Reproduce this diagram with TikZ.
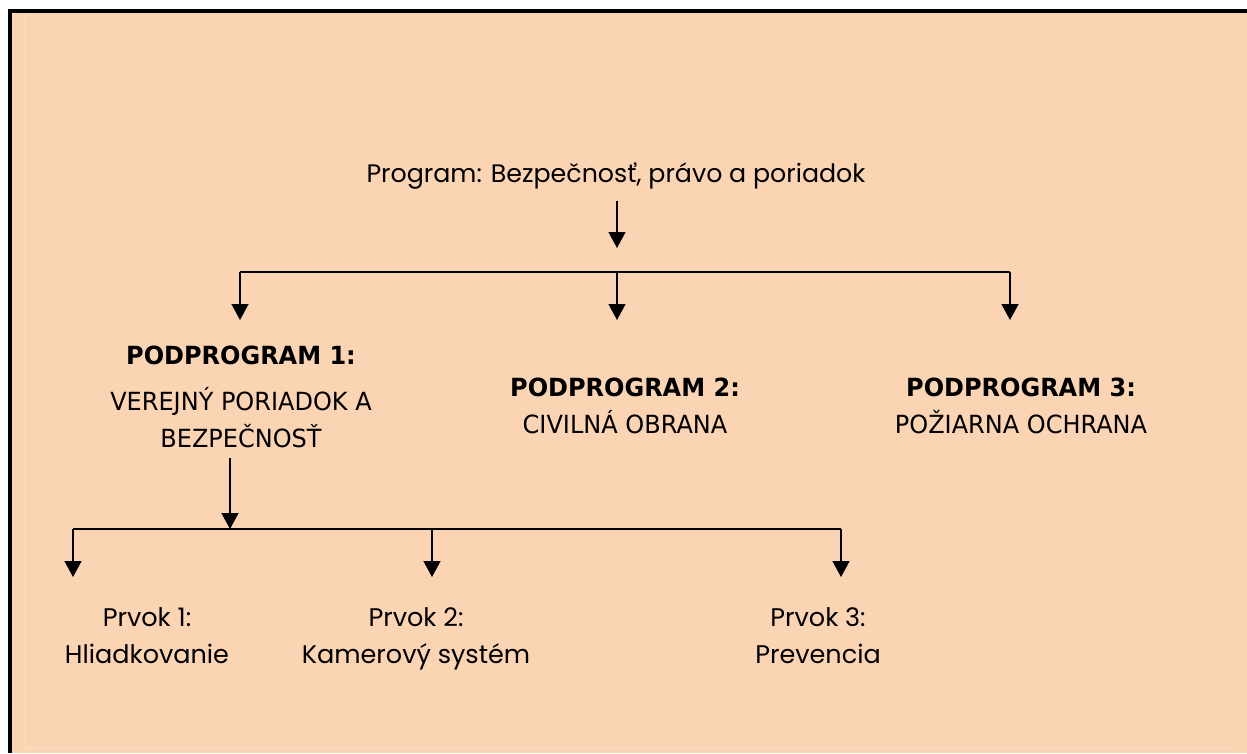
\documentclass[tikz,border=0pt]{standalone}
\usepackage{fontspec}
\setmainfont{Poppins}
\newfontfamily\tahoma[FakeStretch=0.96]{DejaVu Sans}
\usetikzlibrary{arrows.meta}
\definecolor{peach}{HTML}{FBD4B4}
\definecolor{peachline}{HTML}{FCDDC4}

\begin{document}
\begin{tikzpicture}[x=1pt,y=-1pt,line width=1.4pt,
    arr/.style={-{Triangle[width=17pt,length=16pt]}},
    prog/.style={font=\fontsize{25.3}{32}\selectfont, anchor=base, inner sep=0pt},
    sub/.style={font=\tahoma\fontsize{25}{37}\selectfont, align=center, anchor=base, inner sep=0pt},
    elem/.style={font=\fontsize{25.5}{37}\selectfont, align=center, anchor=base, inner sep=0pt}]

    \useasboundingbox (0,0) rectangle (1247,753);
    % page frame
    \fill[black] (8,9) rectangle (1247,753);
    \fill[peach] (12,13) rectangle (1247,753);
    \draw[peachline, line width=0.8pt] (24,13) -- (24,748) -- (1235,748);

      \node [prog] (prog) at (616,182) {Program: Bezpečnosť, právo a poriadok};

      % base = last line
      \node [sub] (sp1) at (241,447) {\textbf{PODPROGRAM 1:}\\[9pt] VEREJNÝ PORIADOK A\\ BEZPEČNOSŤ};
      \node [sub] (sp2) at (625,433) {\textbf{PODPROGRAM 2:}\\ CIVILNÁ OBRANA};
      \node [sub] (sp3) at (1021,433) {\textbf{PODPROGRAM 3:}\\ POŽIARNA OCHRANA};

      \node [elem] (el1) at (147,663) {Prvok 1:\\ Hliadkovanie};
      \node [elem] (el2) at (416,663) {Prvok 2:\\ Kamerový systém};
      \node [elem] (el3) at (818,663) {Prvok 3:\\ Prevencia};

    % first level
    \coordinate (progtip) at (617,248);
    \coordinate (bar1) at (617,272);
    \coordinate (t1) at (240,320);
    \coordinate (t2) at (617,320);
    \coordinate (t3) at (1010,320);
    \draw [arr, shorten <=11pt] (prog.south -| progtip) -- (progtip);
    \draw (bar1 -| t1) -- (bar1 -| t3);
    \foreach \t in {t1,t2,t3}
      \draw [arr] (bar1 -| \t) -- (\t);

    % second level
    \coordinate (bar2) at (230,529);
    \coordinate (e1) at (73,577);
    \coordinate (e2) at (432,577);
    \coordinate (e3) at (841,577);
    \draw [arr, shorten <=10pt] (sp1.south -| bar2) -- (bar2);
    \draw (bar2 -| e1) -- (bar2 -| e3);
    \foreach \e in {e1,e2,e3}
      \draw [arr] (bar2 -| \e) -- (\e);

\end{tikzpicture}
\end{document}
